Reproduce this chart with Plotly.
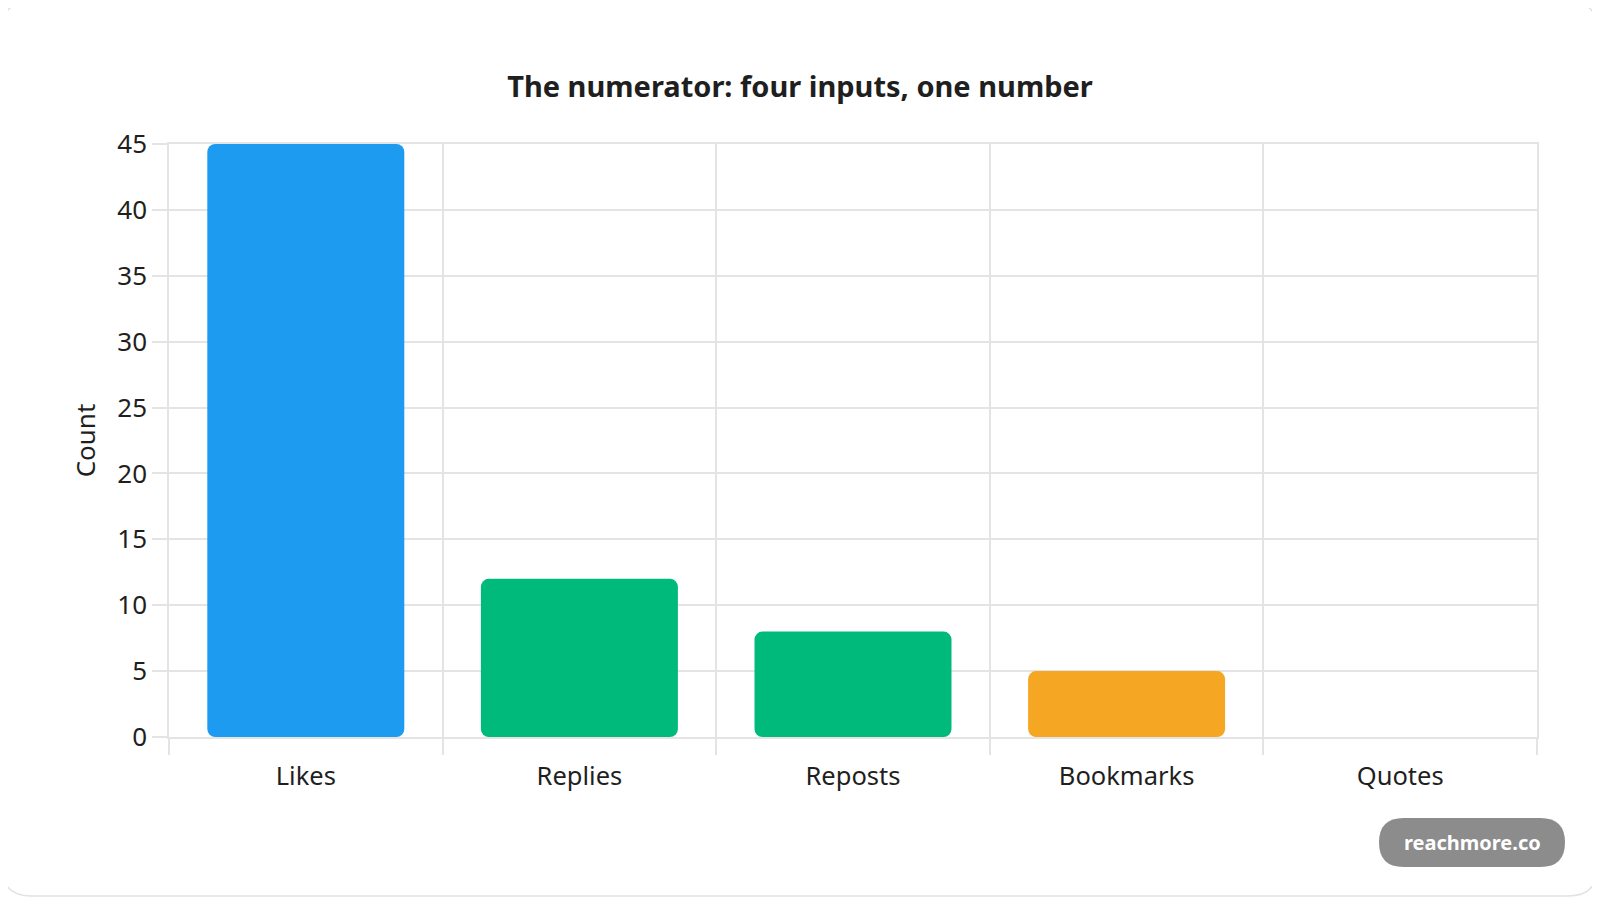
import plotly.graph_objects as go

CATEGORIES = ["Likes", "Replies", "Reposts", "Bookmarks", "Quotes"]
COUNTS = [45, 12, 8, 5, 0]
BAR_COLORS = ["#1D9BF0", "#00BA7C", "#00BA7C", "#F5A623", "#F5A623"]
Y_TICKS = [0, 5, 10, 15, 20, 25, 30, 35, 40, 45]

TITLE = "The numerator: four inputs, one number"
BADGE = "reachmore.co"

# the page body keeps its 8px margin, so the figure is sized to end at the window edge
OFF = 8
W, H = 1600 - OFF, 898 - OFF
L, R, T, B = 161, 63, 136, 161
PW, PH = W - L - R, H - T - B
FONT = "Noto Sans"
TEXT = "#1f1f1f"
GRID = "#E4E4E4"


def px(x):
    # screen pixel -> paper fraction
    return (x - OFF - L) / PW


def py(y):
    return 1 - (y - OFF - T) / PH


def rounded_rect(x0, y0, x1, y1, r):
    pts = [
        f"M {px(x0 + r)},{py(y0)}",
        f"L {px(x1 - r)},{py(y0)}",
        f"Q {px(x1)},{py(y0)} {px(x1)},{py(y0 + r)}",
        f"L {px(x1)},{py(y1 - r)}",
        f"Q {px(x1)},{py(y1)} {px(x1 - r)},{py(y1)}",
        f"L {px(x0 + r)},{py(y1)}",
        f"Q {px(x0)},{py(y1)} {px(x0)},{py(y1 - r)}",
        f"L {px(x0)},{py(y0 + r)}",
        f"Q {px(x0)},{py(y0)} {px(x0 + r)},{py(y0)}",
        "Z",
    ]
    return " ".join(pts)


fig = go.Figure(
    go.Bar(
        x=CATEGORIES,
        y=COUNTS,
        base=[0] * len(COUNTS),  # explicit base rounds both ends of the bar
        width=0.72,
        marker=dict(color=BAR_COLORS, cornerradius=8, line=dict(width=0)),
        hoverinfo="skip",
        showlegend=False,
    )
)

fig.update_layout(
    width=W,
    height=H,
    margin=dict(l=L, r=R, t=T, b=B),
    paper_bgcolor="white",
    plot_bgcolor="white",
    font=dict(family=FONT, color=TEXT, size=24),
    title=dict(
        text=TITLE,
        x=0.5 - OFF / (2 * W),
        xref="container",
        xanchor="center",
        y=1 - (87 - OFF) / H,
        yanchor="middle",
        font=dict(family=FONT, size=29, color=TEXT, weight="bold"),
    ),
    xaxis=dict(
        tickson="boundaries",
        ticks="outside",
        ticklen=16,
        tickcolor=GRID,
        tickwidth=1.5,
        ticklabelstandoff=16,
        showgrid=True,
        gridcolor=GRID,
        gridwidth=1.5,
        showline=True,
        mirror=True,
        linecolor=GRID,
        linewidth=1.5,
        tickfont=dict(size=25.5, color=TEXT),
        fixedrange=True,
    ),
    yaxis=dict(
        range=[0, 45],
        tickvals=Y_TICKS,
        ticks="outside",
        ticklen=15,
        tickcolor=GRID,
        tickwidth=1.5,
        showgrid=True,
        gridcolor=GRID,
        gridwidth=1.5,
        zeroline=False,
        showline=True,
        mirror=True,
        linecolor=GRID,
        linewidth=1.5,
        tickfont=dict(size=26, color=TEXT),
        title=dict(text="Count", font=dict(size=26, color=TEXT), standoff=14),
        fixedrange=True,
    ),
    shapes=[
        dict(
            type="path",
            xref="paper",
            yref="paper",
            path=rounded_rect(1.5, 1.5, 1598, 896, 30),
            line=dict(color="#E2E2E2", width=1.5),
            fillcolor="rgba(0,0,0,0)",
            layer="below",
        ),
        dict(
            type="path",
            xref="paper",
            yref="paper",
            path=rounded_rect(1379, 818, 1565, 867, 24.5),
            line=dict(width=0),
            fillcolor="#8C8C8C",
            layer="above",
        ),
    ],
    annotations=[
        dict(
            text=BADGE,
            xref="paper",
            yref="paper",
            x=px(1472),
            y=py(842.5),
            xanchor="center",
            yanchor="middle",
            showarrow=False,
            font=dict(family=FONT, size=20, color="white", weight="bold"),
        )
    ],
)

fig.write_html("out.html")
